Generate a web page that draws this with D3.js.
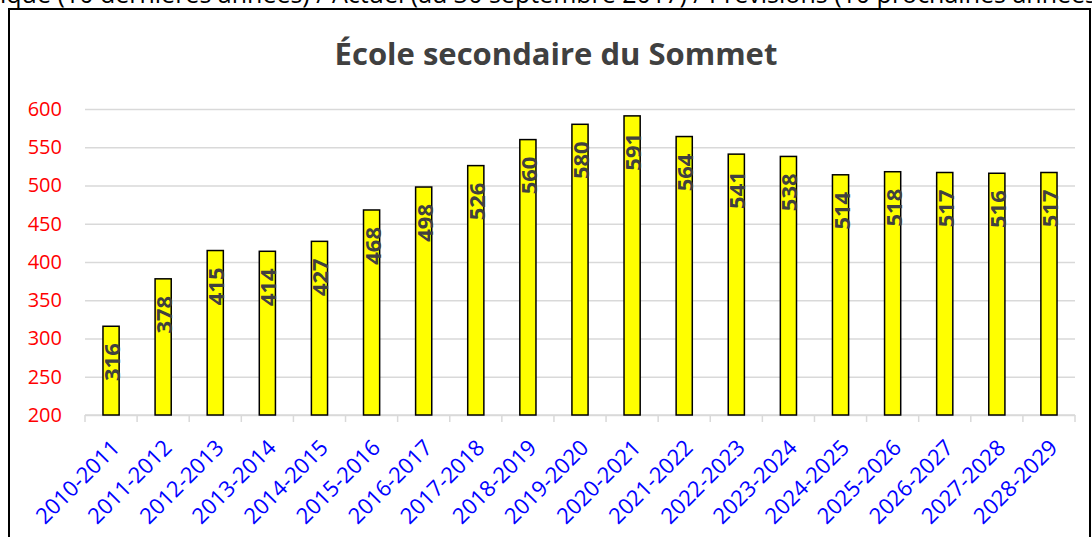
<!DOCTYPE html>
<html>
<head>
<meta charset="utf-8">
<script src="https://cdn.jsdelivr.net/npm/d3@7"></script>
<style>
  body { margin: 0; background: #fff; }
  svg { display: block; }
</style>
</head>
<body>
<svg id="chart" width="1092" height="537"></svg>
<script>
const years = ['2010-2011', '2011-2012', '2012-2013', '2013-2014', '2014-2015', '2015-2016', '2016-2017',
	'2017-2018', '2018-2019', '2019-2020', '2020-2021', '2021-2022', '2022-2023', '2023-2024', '2024-2025',
	'2025-2026', '2026-2027', '2027-2028', '2028-2029'];
const students = [316, 378, 415, 414, 427, 468, 498, 526, 560, 580, 591, 564, 541, 538, 514, 518, 517, 516, 517];
const yTicks = [200, 250, 300, 350, 400, 450, 500, 550, 600];
const chartTitle = 'École secondaire du Sommet';
const topNote = 'Historique (10 dernières années) / Actuel (au 30 septembre 2017) / Prévisions (10 prochaines années)';

const svg = d3.select('#chart');
const FONT = '"Open Sans", "Liberation Sans", sans-serif';

// plot area
const margin = { left: 85, right: 1075, top: 109, bottom: 415 };

const x = d3.scaleBand()
	.domain(years)
	.range([margin.left, margin.right])
	.paddingInner(0.69)
	.paddingOuter(0.345);

const y = d3.scaleLinear()
	.domain([200, 600])
	.range([margin.bottom, margin.top]);

// note cut at the top of the picture
const note = svg.append('text')
	.attr('y', 3)
	.attr('font-family', FONT)
	.attr('font-size', 25)
	.attr('fill', '#000')
	.text(topNote);
const probe = svg.append('text').attr('font-family', FONT).attr('font-size', 25).text('Histor');
const skip = probe.node().getComputedTextLength();
probe.remove();
note.attr('x', -skip);

// frame
svg.append('rect')
	.attr('x', 9)
	.attr('y', 9)
	.attr('width', 1081)
	.attr('height', 540)
	.attr('fill', '#fff')
	.attr('stroke', '#000')
	.attr('stroke-width', 2);

// title
svg.append('text')
	.attr('x', 556)
	.attr('y', 65)
	.attr('text-anchor', 'middle')
	.attr('font-family', FONT)
	.attr('font-weight', 'bold')
	.attr('font-size', 31)
	.attr('fill', '#404040')
	.text(chartTitle);

// gridlines + y labels
const yAxis = svg.append('g')
	.attr('transform', `translate(${margin.left},0)`)
	.call(d3.axisLeft(y).tickValues(yTicks).tickSize(-(margin.right - margin.left)).tickPadding(23));
yAxis.select('.domain').remove();
yAxis.selectAll('.tick line')
	.attr('stroke', '#d9d9d9')
	.attr('stroke-width', 1.5);
yAxis.selectAll('.tick text')
	.attr('fill', '#ff0000')
	.attr('font-family', FONT)
	.attr('font-size', 20);

// x axis line and ticks at band edges
const xAxis = svg.append('g');
xAxis.append('line')
	.attr('x1', margin.left)
	.attr('x2', margin.right)
	.attr('y1', margin.bottom)
	.attr('y2', margin.bottom)
	.attr('stroke', '#d9d9d9')
	.attr('stroke-width', 1.5);
const edges = years.map(d => x(d) - x.step() * x.paddingInner() / 2);
edges.push(margin.right);
xAxis.selectAll('.edge')
	.data(edges)
	.enter()
	.append('line')
	.attr('x1', d => d)
	.attr('x2', d => d)
	.attr('y1', margin.bottom)
	.attr('y2', margin.bottom + 7)
	.attr('stroke', '#d9d9d9')
	.attr('stroke-width', 1.5);

// category labels
xAxis.selectAll('.cat')
	.data(years)
	.enter()
	.append('text')
	.attr('transform', d => `translate(${x(d) + x.bandwidth() / 2 + 10},${margin.bottom + 34}) rotate(-45)`)
	.attr('text-anchor', 'end')
	.attr('font-family', FONT)
	.attr('font-size', 22)
	.attr('fill', '#0000ff')
	.text(d => d);

// bars
svg.selectAll('.bar')
	.data(students)
	.enter()
	.append('rect')
	.attr('class', 'bar')
	.attr('x', (d, i) => x(years[i]))
	.attr('width', x.bandwidth())
	.attr('y', d => y(d))
	.attr('height', d => margin.bottom - y(d))
	.attr('fill', '#ffff00')
	.attr('stroke', '#000')
	.attr('stroke-width', 1.5);

// value labels
svg.selectAll('.val')
	.data(students)
	.enter()
	.append('text')
	.attr('transform', (d, i) => `translate(${x(years[i]) + x.bandwidth() / 2 + 9},${y(d) + 17}) rotate(-90)`)
	.attr('text-anchor', 'end')
	.attr('font-family', FONT)
	.attr('font-weight', 'bold')
	.attr('font-size', 22)
	.attr('fill', '#404040')
	.text(d => d);
</script>
</body>
</html>
